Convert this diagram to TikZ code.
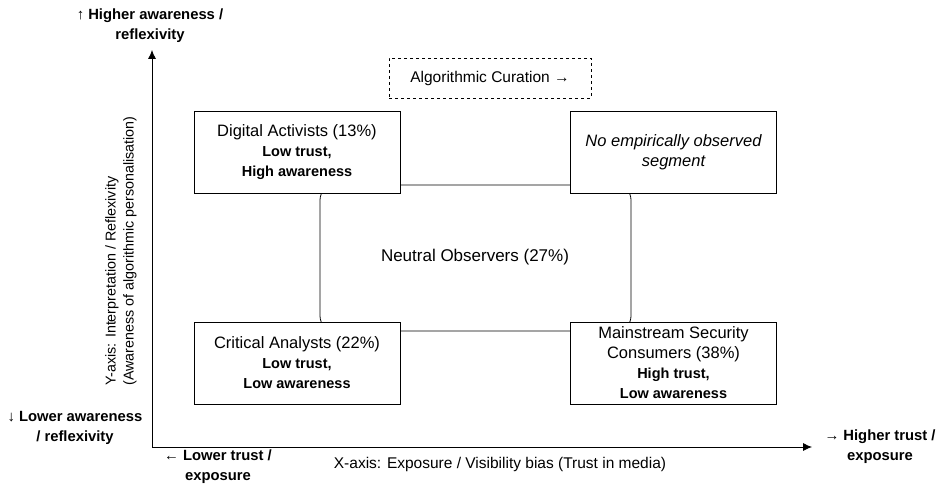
\documentclass[tikz,border=0pt]{standalone}
\usepackage{fontspec}
\setmainfont{Liberation Sans}
\usetikzlibrary{arrows.meta}

\newcommand{\subline}[1]{{\fontsize{14.5}{20}\selectfont\bfseries #1}}

\begin{document}
\begin{tikzpicture}[x=1pt, y=1pt,
  seg/.style = {draw, thick, fill=white, minimum width=206pt, minimum height=82pt, align=center, inner sep=2pt, font=\fontsize{16.5}{20}\selectfont},
  lbl/.style = {align=center, font=\fontsize{14.8}{20}\selectfont\bfseries},
  axis/.style = {thick, -{Latex[length=9pt, width=8pt]}}]

\useasboundingbox (0, 0) rectangle (941, 485);

% axes
\coordinate (origin) at (152, 38);
\coordinate (ytop) at (152, 435);
\coordinate (xend) at (812, 38);
\draw [axis] (origin) -- (ytop);
\draw [axis] (origin) -- (xend);

% neutral zone behind the segments
\node (neutral) [draw, thick, rounded corners=15pt, minimum width=311pt, minimum height=146pt] at (475.5, 227) {};
\node (neutraltext) [font=\fontsize{17}{20}\selectfont] at (475, 228) {Neutral Observers (27\%)};

\node (curation) [draw, dashed, minimum width=202pt, minimum height=40pt, font=\fontsize{15.5}{20}\selectfont] at (490, 407) {Algorithmic Curation →};

\node (activists) [seg] at (297, 333) {Digital Activists (13\%)\\ \subline{Low trust,}\\ \subline{High awareness}};
\node (empty) [seg, font=\fontsize{16.5}{20}\selectfont\itshape] at (673.5, 333) {No empirically observed\\ segment};
\node (analysts) [seg] at (297, 122) {Critical Analysts (22\%)\\ \subline{Low trust,}\\ \subline{Low awareness}};
\node (mainstream) [seg] at (673.5, 122) {Mainstream Security\\ Consumers (38\%)\\ \subline{High trust,}\\ \subline{Low awareness}};

% axis labels
\node (yhigh) [lbl] at (150, 459) {↑ Higher awareness /\\ reflexivity};
\node (ylow) [lbl] at (75, 57) {↓ Lower awareness\\ / reflexivity};
\node (xlow) [lbl] at (218, 18) {← Lower trust /\\ exposure};
\node (xhigh) [lbl] at (880, 38) {→ Higher trust /\\ exposure};
\node (xtitle) [font=\fontsize{15.5}{20}\selectfont] at (500, 21) {X-axis: Exposure / Visibility bias (Trust in media)};
\node (ytitle) [rotate=90, align=left, font=\fontsize{14.3}{18}\selectfont] at (121, 234) {Y-axis: Interpretation / Reflexivity\\ (Awareness of algorithmic personalisation)};

\end{tikzpicture}
\end{document}
